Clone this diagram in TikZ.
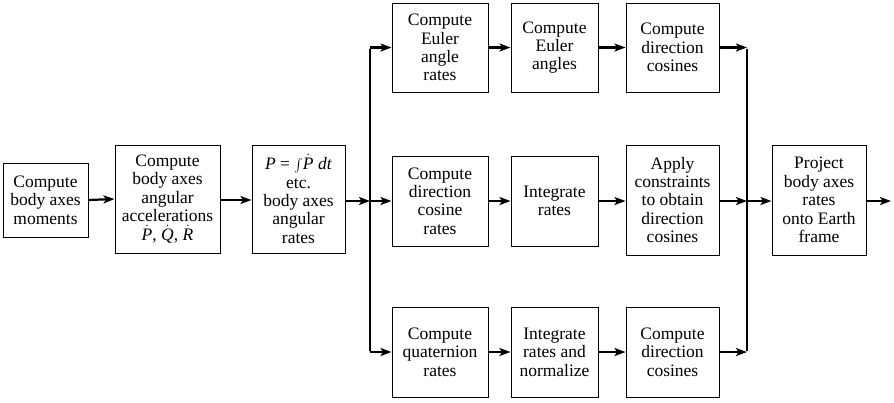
\documentclass[tikz,border=0pt]{standalone}
\usepackage{fontspec}
\usepackage{graphicx}
\setmainfont{Liberation Serif}
\usetikzlibrary{arrows.meta}
\begin{document}
\begin{tikzpicture}[x=1pt,y=-1pt,
  blk/.style={draw,line width=1pt,align=center,inner sep=0pt,
    font=\fontsize{17.5}{18.4}\selectfont},
  arr/.style={line width=2.2pt,-{Stealth[length=11pt,width=8pt,inset=2.5pt]}},
  bus/.style={line width=2.2pt}]
\useasboundingbox (0,0) rectangle (894,402);
% left chain
\node[blk,minimum width=85pt,minimum height=74pt] (b1) at (45.5,200) {Compute\\body axes\\moments};
\node[blk,minimum width=105pt,minimum height=108pt] (b2) at (167.5,199) {Compute\\body axes\\angular\\accelerations\\$\dot{\textit{P}}$, $\dot{\textit{Q}}$, $\dot{\textit{R}}$};
\node[blk,minimum width=93pt,minimum height=108pt] (b3) at (298.5,199) {\textit{P} = \raisebox{-1.5pt}{\scalebox{1.3}{$\int$}}$\dot{\textit{P}}$ \textit{dt}\\etc.\\body axes\\angular\\rates};
% top row
\node[blk,minimum width=96pt,minimum height=89pt] (t1) at (440,47.5) {Compute\\Euler\\angle\\rates};
\node[blk,minimum width=87pt,minimum height=89pt] (t2) at (554.5,47.5) {Compute\\Euler\\angles};
\node[blk,minimum width=93pt,minimum height=89pt] (t3) at (672.5,47.5) {Compute\\direction\\cosines};
% middle row
\node[blk,minimum width=96pt,minimum height=90pt] (m1) at (440,201) {Compute\\direction\\cosine\\rates};
\node[blk,minimum width=87pt,minimum height=90pt] (m2) at (554.5,201) {Integrate\\rates};
\node[blk,minimum width=93pt,minimum height=110pt] (m3) at (672.5,200) {Apply\\constraints\\to obtain\\direction\\cosines};
% bottom row
\node[blk,minimum width=96pt,minimum height=90pt] (q1) at (440,352) {Compute\\quaternion\\rates};
\node[blk,minimum width=87pt,minimum height=90pt] (q2) at (554.5,352) {Integrate\\rates and\\normalize};
\node[blk,minimum width=93pt,minimum height=90pt] (q3) at (672.5,352) {Compute\\direction\\cosines};
% project
\node[blk,minimum width=94pt,minimum height=110pt] (pr) at (819,200) {Project\\body axes\\rates\\onto Earth\\frame};
% bus coordinates
\coordinate (lt) at (370,47.5);
\coordinate (lm) at (370,201);
\coordinate (lb) at (370,352);
\coordinate (rt) at (747,47.5);
\coordinate (rm) at (747,201);
\coordinate (rb) at (747,352);
\coordinate (out) at (891,201);
% connectors
\draw[arr] (b1.east) -- (b2.east -| b2.west);
\draw[arr] (b1.east -| b2.east) -- (b1.east -| b3.west);
\draw[arr] (b3.east |- lm) -- (lm);
\draw[bus] ([yshift=-1.1pt]lt) -- ([yshift=1.1pt]lb);
\draw[arr] (lt) -- (t1.west);
\draw[arr] (lm) -- (m1.west);
\draw[arr] (lb) -- (q1.west);
\draw[arr] (t1.east) -- (t2.west);
\draw[arr] (t2.east) -- (t3.west);
\draw[arr] (m1.east) -- (m2.west);
\draw[arr] (m2.east) -- (m2.east -| m3.west);
\draw[arr] (q1.east) -- (q2.west);
\draw[arr] (q2.east) -- (q3.west);
\draw[arr] (t3.east) -- (rt);
\draw[arr] (m2.east -| m3.east) -- (rm);
\draw[arr] (q3.east) -- (rb);
\draw[bus] ([yshift=-1.1pt]rt) -- ([yshift=1.1pt]rb);
\draw[arr] (rm) -- (rm -| pr.west);
\draw[arr] (rm -| pr.east) -- (out);
\end{tikzpicture}
\end{document}
